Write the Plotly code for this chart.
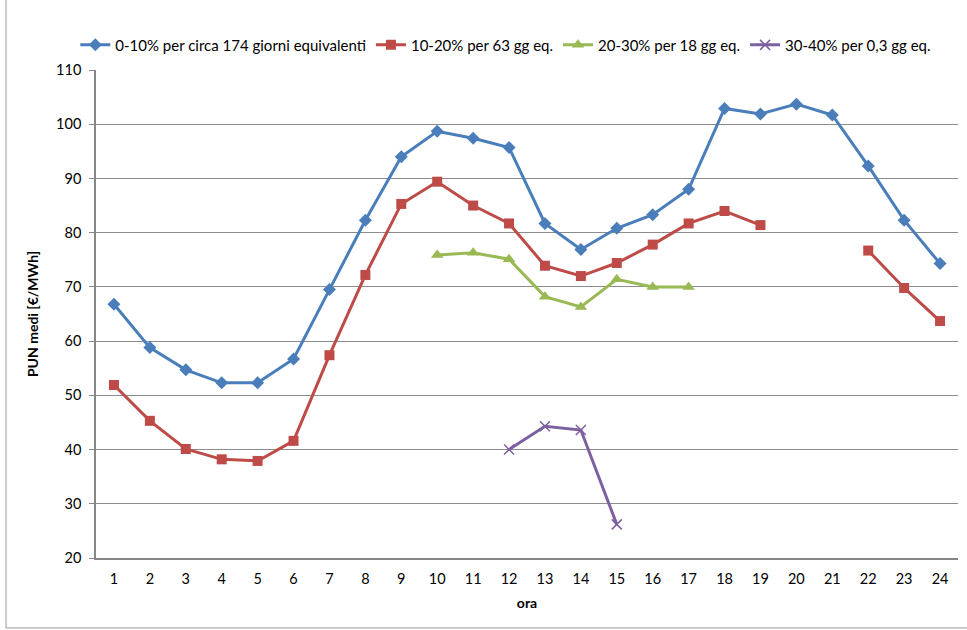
import plotly.graph_objects as go

hours = list(range(1, 25))
names = ["0-10% per circa 174 giorni equivalenti", "10-20% per 63 gg eq.",
         "20-30% per 18 gg eq.", "30-40% per 0,3 gg eq."]
s_blue = [66.8, 58.8, 54.7, 52.3, 52.3, 56.7, 69.5, 82.3, 94.0, 98.7, 97.4, 95.7,
          81.7, 76.9, 80.8, 83.3, 88.0, 102.9, 101.9, 103.7, 101.7, 92.3, 82.3, 74.3]
s_red = [51.9, 45.3, 40.1, 38.2, 37.9, 41.6, 57.4, 72.2, 85.3, 89.4, 85.0, 81.7,
         73.9, 72.0, 74.4, 77.8, 81.7, 84.0, 81.4, None, None, 76.7, 69.8, 63.7]
s_green = [None] * 9 + [75.9, 76.3, 75.1, 68.2, 66.3, 71.4, 70.0, 70.0] + [None] * 7
s_purple = [None] * 11 + [40.0, 44.3, 43.6, 26.2] + [None] * 9

colors = ["#4A7EBB", "#BE4B48", "#98B954", "#7D60A0"]
symbols = ["diamond", "square", "triangle-up", "x-thin"]
sizes = [10, 10, 11, 10]
series = [s_blue, s_red, s_green, s_purple]

fig = go.Figure()
for name, vals, c, sym, sz in zip(names, series, colors, symbols, sizes):
    marker = dict(symbol=sym, size=sz, color=c)
    if sym == "x-thin":
        marker["line"] = dict(color=c, width=1.5)
    fig.add_trace(go.Scatter(x=hours, y=vals, name=name, mode="lines+markers",
                             line=dict(color=c, width=3), marker=marker,
                             connectgaps=False))

font = "Lato, 'Liberation Sans', sans-serif"
fig.update_layout(
    width=967, height=630,
    margin=dict(l=96, r=9, t=70, b=72),
    paper_bgcolor="white", plot_bgcolor="white",
    font=dict(family=font, size=14.5, color="#000"),
    legend=dict(orientation="h", x=-0.024, xanchor="left", y=1.051, yanchor="middle",
                font=dict(size=15), itemwidth=30, tracegroupgap=0),
    showlegend=True,
)
fig.update_xaxes(
    range=[0.5, 24.5], tickmode="array", tickvals=hours,
    ticktext=[str(h) for h in hours], showgrid=False,
    showline=True, linecolor="#868686", linewidth=1.5, ticks="",
    ticklabelstandoff=7,
    title=dict(text="<b>ora</b>", font=dict(size=14), standoff=12),
    zeroline=False,
)
fig.update_yaxes(
    range=[20, 110], dtick=10, showgrid=True, gridcolor="#8C8C8C", gridwidth=1,
    showline=True, linecolor="#868686", linewidth=1.5, ticks="outside",
    ticklen=5, tickcolor="#868686", ticklabelstandoff=5,
    title=dict(text="<b>PUN medi [€/MWh]</b>", font=dict(size=14), standoff=14),
    zeroline=False,
)
# chart frame (left and bottom edges visible)
fig.add_shape(type="line", xref="paper", yref="paper", x0=-0.1044, x1=-0.1044,
              y0=-0.1434, y1=1.2, line=dict(color="#9A9A9A", width=1))
fig.add_shape(type="line", xref="paper", yref="paper", x0=-0.1044, x1=1.1,
              y0=-0.1434, y1=-0.1434, line=dict(color="#9A9A9A", width=1))

fig.write_html("out.html")
